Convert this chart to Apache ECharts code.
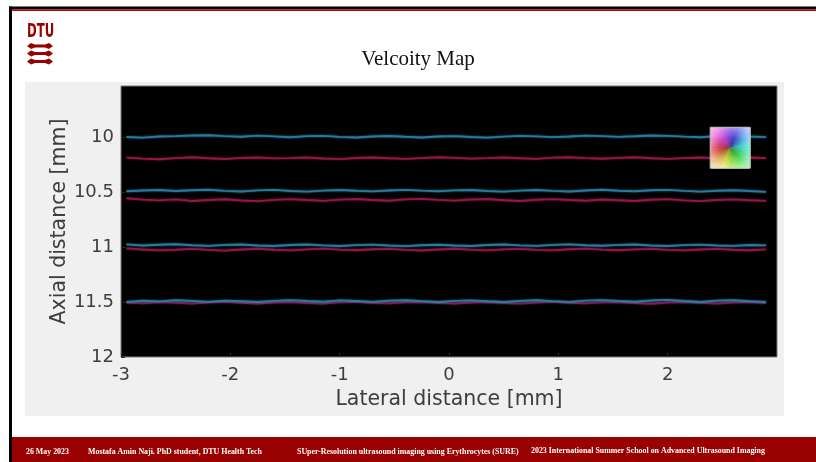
<!DOCTYPE html>
<html>
<head>
<meta charset="utf-8">
<script src="https://cdn.jsdelivr.net/npm/echarts@6/dist/echarts.min.js"></script>
<style>
html,body{margin:0;padding:0;background:#fff;}
#c{width:816px;height:462px;}
</style>
</head>
<body>
<div id="c"></div>
<script>
// ---------- data ----------
const slideTitle = 'Velcoity Map';
const xAxisName = 'Lateral distance [mm]';
const yAxisName = 'Axial distance [mm]';
const xTicks = [-3, -2, -1, 0, 1, 2];
const yTicks = [10, 10.5, 11, 11.5, 12];
const footerTexts = ['26 May 2023', 'Mostafa Amin Naji. PhD student, DTU Health Tech', 'SUper-Resolution ultrasound imaging using Erythrocytes (SURE)', '2023 International Summer School on Advanced Ultrasound Imaging'];

const lateralX = [-2.95,-2.8,-2.65,-2.5,-2.35,-2.2,-2.05,-1.9,-1.75,-1.6,-1.45,-1.3,-1.15,-1.0,-0.85,-0.7,-0.55,-0.4,-0.25,-0.1,0.05,0.2,0.35,0.5,0.65,0.8,0.95,1.1,1.25,1.4,1.55,1.7,1.85,2.0,2.15,2.3,2.45,2.6,2.75,2.9];

const blueTrack1 = [9.998,10.004,9.993,9.99,9.985,9.982,9.99,9.996,9.986,9.992,10.0,9.99,9.988,9.997,10.003,9.994,9.989,9.996,10.002,9.993,9.99,9.998,10.004,9.995,9.988,9.992,9.999,9.993,9.986,9.99,9.997,9.991,9.984,9.988,9.995,10.001,9.99,9.986,9.993,9.999];
const redTrack1 = [10.186,10.195,10.2,10.19,10.183,10.192,10.198,10.188,10.184,10.193,10.19,10.185,10.194,10.199,10.189,10.184,10.191,10.197,10.19,10.183,10.188,10.195,10.19,10.184,10.192,10.197,10.186,10.182,10.19,10.196,10.188,10.183,10.191,10.197,10.19,10.185,10.193,10.188,10.184,10.19];
const blueTrack2 = [10.492,10.485,10.48,10.49,10.483,10.478,10.488,10.494,10.484,10.479,10.489,10.495,10.486,10.48,10.487,10.493,10.485,10.479,10.486,10.492,10.484,10.48,10.49,10.495,10.486,10.481,10.488,10.494,10.485,10.478,10.487,10.492,10.483,10.479,10.488,10.495,10.487,10.482,10.49,10.497];
const redTrack2 = [10.555,10.568,10.575,10.566,10.58,10.572,10.564,10.576,10.582,10.57,10.563,10.572,10.579,10.568,10.562,10.571,10.578,10.566,10.561,10.57,10.577,10.567,10.562,10.573,10.58,10.569,10.563,10.571,10.578,10.567,10.574,10.58,10.569,10.563,10.575,10.582,10.572,10.566,10.574,10.579];
const blueTrack3 = [10.975,10.985,10.978,10.974,10.983,10.989,10.98,10.976,10.985,10.99,10.981,10.976,10.984,10.99,10.982,10.977,10.986,10.991,10.983,10.978,10.985,10.99,10.981,10.976,10.984,10.989,10.98,10.975,10.983,10.988,10.98,10.976,10.985,10.99,10.982,10.977,10.985,10.989,10.981,10.984];
const redTrack3 = [11.012,11.022,11.03,11.024,11.016,11.025,11.032,11.022,11.015,11.024,11.03,11.021,11.014,11.023,11.029,11.02,11.016,11.025,11.031,11.022,11.015,11.023,11.03,11.021,11.016,11.025,11.03,11.02,11.014,11.023,11.029,11.021,11.016,11.025,11.03,11.022,11.016,11.024,11.029,11.021];
const blueTrack4 = [11.5,11.488,11.494,11.483,11.49,11.498,11.487,11.493,11.5,11.489,11.482,11.49,11.497,11.485,11.491,11.498,11.488,11.483,11.492,11.499,11.489,11.485,11.493,11.5,11.49,11.484,11.492,11.498,11.487,11.482,11.49,11.497,11.486,11.48,11.491,11.499,11.487,11.483,11.493,11.498];
const redTrack4 = [11.505,11.512,11.5,11.507,11.514,11.503,11.498,11.507,11.513,11.504,11.499,11.508,11.514,11.503,11.498,11.506,11.512,11.502,11.499,11.507,11.513,11.504,11.5,11.508,11.514,11.505,11.498,11.506,11.512,11.503,11.5,11.509,11.515,11.504,11.499,11.507,11.513,11.505,11.5,11.508];

// direction colour key extent in data units [lateral, axial]
const colorKey = [[2.39, 9.91], [2.755, 10.283]];

// ---------- chart ----------
const BLUE = '#2a82aa', RED = '#a0184d', RED4 = '#8c1c5a';
function track(values, color, z) {
  return {
    type: 'line', data: lateralX.map((x, i) => [x, values[i]]),
    showSymbol: false, symbol: 'none', smooth: false, z: z,
    lineStyle: { color: color, width: 1.9, opacity: 0.85, shadowBlur: 2, shadowColor: color },
    silent: true, animation: false
  };
}

function wheelItem(params, api) {
  const p1 = api.coord([colorKey[0][0], colorKey[0][1]]);
  const p2 = api.coord([colorKey[1][0], colorKey[1][1]]);
  const x0 = Math.min(p1[0], p2[0]), x1 = Math.max(p1[0], p2[0]);
  const y0 = Math.min(p1[1], p2[1]), y1 = Math.max(p1[1], p2[1]);
  const cx = (x0 + x1) / 2, cy = (y0 + y1) / 2, hw = (x1 - x0) / 2, hh = (y1 - y0) / 2;
  const R = Math.sqrt(hw * hw + hh * hh);
  function edge(deg) {
    const t = deg * Math.PI / 180, c = Math.cos(t), s = Math.sin(t);
    const k = Math.min(hw / Math.max(Math.abs(c), 1e-9), hh / Math.max(Math.abs(s), 1e-9));
    return [cx + c * k, cy - s * k];
  }
  const children = [];
  const step = 5;
  for (let a = 0; a < 360; a += step) {
    const h = (170 + a + step / 2) % 360;
    const fill = {
      type: 'radial', x: cx, y: cy, r: R, global: true,
      colorStops: [
        { offset: 0, color: 'hsl(' + h + ',50%,36%)' },
        { offset: 0.4, color: 'hsl(' + h + ',68%,58%)' },
        { offset: 0.72, color: 'hsl(' + h + ',85%,78%)' },
        { offset: 1, color: 'hsl(' + h + ',90%,90%)' }
      ]
    };
    children.push({
      type: 'polygon',
      shape: { points: [[cx, cy], edge(a), edge(a + step)] },
      style: { fill: fill, stroke: fill, lineWidth: 0.6 }
    });
  }
  children.push({ type: 'rect', shape: { x: x0, y: y0, width: x1 - x0, height: y1 - y0 }, style: { fill: 'none', stroke: '#b8b8b8', lineWidth: 1 } });
  return { type: 'group', children: children };
}

function bone(y) {
  return { type: 'polygon', z: 50, shape: { points: [[27,y],[31,y-3],[35,y-1.4],[45,y-1.4],[49,y-3],[53,y],[49,y+3],[45,y+1.4],[35,y+1.4],[31,y+3]] }, style: { fill: '#990000' } };
}

const labelColor = '#3d3d3d';
const footerStyle = { fontFamily: 'Liberation Serif', fontWeight: 'bold', fontSize: 7.9, fill: '#fff', verticalAlign: 'middle' };
const option = {
  animation: false,
  backgroundColor: '#ffffff',
  grid: { left: 121, right: 39, top: 86, bottom: 105, show: true, backgroundColor: '#000', borderColor: '#7a7a7a', borderWidth: 1 },
  xAxis: {
    type: 'value', min: -3, max: 3, interval: 1,
    name: xAxisName, nameLocation: 'middle', nameGap: 32, nameMoveOverlap: false,
    nameTextStyle: { fontFamily: 'DejaVu Sans', fontSize: 20.5, color: labelColor },
    axisLine: { show: false, onZero: false },
    axisTick: { show: true, inside: true, length: 4, lineStyle: { color: '#2a2a2a' }, customValues: xTicks },
    axisLabel: { customValues: xTicks, margin: 9, fontFamily: 'DejaVu Sans', fontSize: 18, color: labelColor },
    splitLine: { show: false }
  },
  yAxis: {
    type: 'value', inverse: true, min: 9.534, max: 12,
    name: yAxisName, nameLocation: 'middle', nameGap: 51, nameMoveOverlap: false,
    nameTextStyle: { fontFamily: 'DejaVu Sans', fontSize: 20.5, color: labelColor },
    axisLine: { show: false, onZero: false },
    axisTick: { show: true, inside: true, length: 4, lineStyle: { color: '#2a2a2a' }, customValues: yTicks },
    axisLabel: { customValues: yTicks, margin: 7, fontFamily: 'DejaVu Sans', fontSize: 18, color: labelColor },
    splitLine: { show: false }
  },
  series: [
    track(redTrack1, RED, 2), track(blueTrack1, BLUE, 3),
    track(redTrack2, RED, 2), track(blueTrack2, BLUE, 3),
    track(redTrack3, RED, 2), track(blueTrack3, BLUE, 3),
    track(redTrack4, RED4, 2), track(blueTrack4, BLUE, 3),
    { type: 'custom', renderItem: wheelItem, data: [0], z: 10, silent: true, clip: true }
  ],
  graphic: [
    { type: 'rect', z: -100, shape: { x: 25, y: 82, width: 759, height: 334 }, style: { fill: '#f0f0f0' } },
    { type: 'rect', z: 50, shape: { x: 9, y: 6.5, width: 807, height: 3 }, style: { fill: '#000' } },
    { type: 'rect', z: 50, shape: { x: 12, y: 9.5, width: 804, height: 1.6 }, style: { fill: '#c00000' } },
    { type: 'rect', z: 50, shape: { x: 9, y: 6.5, width: 3, height: 456 }, style: { fill: '#000' } },
    { type: 'rect', z: 50, shape: { x: 12, y: 437, width: 804, height: 25 }, style: { fill: '#990000' } },
    { type: 'text', z: 50, x: 418, y: 59, style: { text: slideTitle, fontFamily: 'Liberation Serif', fontSize: 21, fill: '#111', align: 'center', verticalAlign: 'middle' } },
    { type: 'text', z: 50, x: 27, y: 31.5, scaleX: 0.6, style: { text: 'DTU', fontFamily: 'DejaVu Sans', fontWeight: 'bold', fontSize: 19.5, fill: '#990000', align: 'left', verticalAlign: 'middle' } },
    bone(46), bone(53.5), bone(61.5),
    { type: 'text', z: 51, x: 26, y: 452, style: Object.assign({ text: footerTexts[0] }, footerStyle) },
    { type: 'text', z: 51, x: 88, y: 452, style: Object.assign({ text: footerTexts[1] }, footerStyle) },
    { type: 'text', z: 51, x: 297, y: 452, style: Object.assign({ text: footerTexts[2] }, footerStyle) },
    { type: 'text', z: 51, x: 531, y: 451, style: Object.assign({ text: footerTexts[3] }, footerStyle) }
  ]
};
const chart = echarts.init(document.getElementById('c'), null, { renderer: 'canvas' });
chart.setOption(option);
</script>
</body>
</html>
